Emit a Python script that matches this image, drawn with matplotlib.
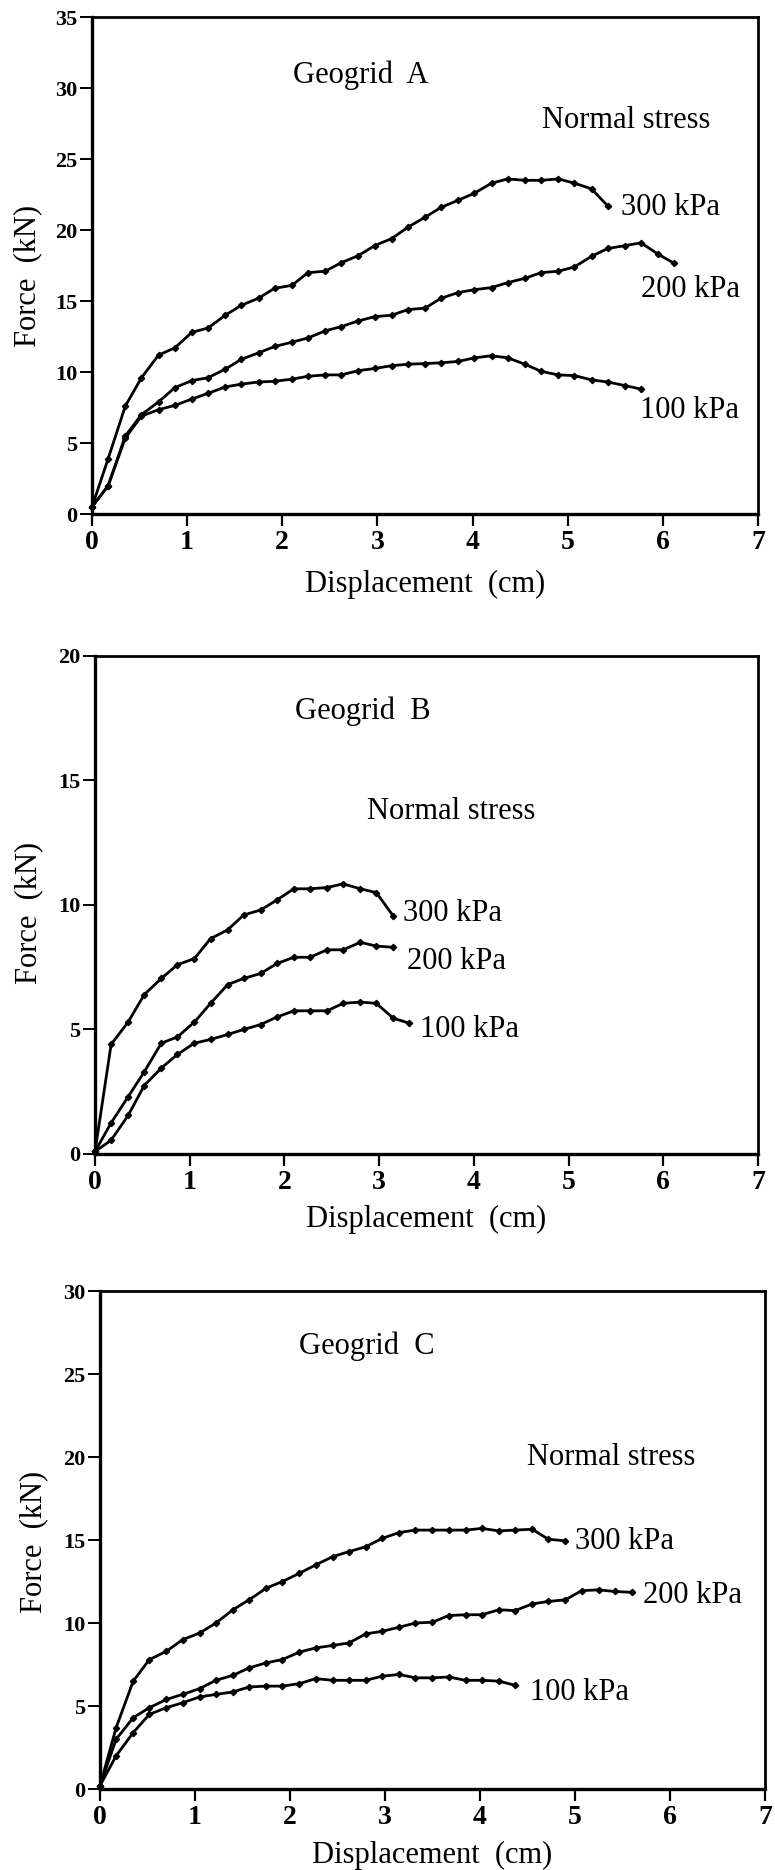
import matplotlib
matplotlib.use('Agg')
import matplotlib.pyplot as plt

plt.rcParams['font.family'] = ['Liberation Serif', 'DejaVu Serif']

# displacement readings (cm), shared by every curve of a panel
disp = [0.0, 0.17, 0.35, 0.52, 0.70, 0.87, 1.05, 1.22, 1.40, 1.57,
        1.75, 1.92, 2.10, 2.27, 2.45, 2.62, 2.80, 2.97, 3.15, 3.32,
        3.50, 3.67, 3.85, 4.02, 4.20, 4.37, 4.55, 4.72, 4.90, 5.07,
        5.25, 5.42, 5.60, 5.77, 5.95, 6.12]

# Geogrid A forces (kN)
a_300 = [0.5, 3.9, 7.6, 9.6, 11.2, 11.7, 12.8, 13.1, 14.0, 14.7,
         15.2, 15.9, 16.1, 17.0, 17.1, 17.7, 18.2, 18.9, 19.4, 20.2,
         20.9, 21.6, 22.1, 22.6, 23.3, 23.6, 23.5, 23.5, 23.6, 23.3,
         22.9, 21.7]
a_200 = [0.5, 2.0, 5.5, 7.0, 7.9, 8.9, 9.4, 9.6, 10.2, 10.9,
         11.35, 11.8, 12.1, 12.4, 12.9, 13.2, 13.6, 13.9, 14.0, 14.4,
         14.5, 15.2, 15.6, 15.8, 15.95, 16.3, 16.6, 17.0, 17.1, 17.4,
         18.15, 18.7, 18.9, 19.1, 18.3, 17.65]
a_100 = [0.5, 2.0, 5.35, 6.9, 7.35, 7.65, 8.1, 8.5, 8.95, 9.15,
         9.3, 9.35, 9.5, 9.7, 9.8, 9.8, 10.1, 10.25, 10.45, 10.55,
         10.6, 10.65, 10.75, 11.0, 11.15, 11.0, 10.55, 10.05, 9.8, 9.75,
         9.45, 9.3, 9.05, 8.8]

# Geogrid B forces (kN)
b_300 = [0.1, 4.4, 5.3, 6.4, 7.05, 7.6, 7.85, 8.65, 9.0, 9.6,
         9.8, 10.2, 10.65, 10.65, 10.7, 10.85, 10.65, 10.5, 9.55]
b_200 = [0.1, 1.25, 2.3, 3.3, 4.45, 4.7, 5.3, 6.05, 6.8, 7.05,
         7.25, 7.65, 7.9, 7.9, 8.2, 8.2, 8.5, 8.35, 8.3]
b_100 = [0.1, 0.55, 1.55, 2.75, 3.45, 4.0, 4.45, 4.6, 4.8, 5.0,
         5.2, 5.5, 5.75, 5.75, 5.75, 6.05, 6.1, 6.05, 5.45, 5.25]

# Geogrid C forces (kN)
c_300 = [0.2, 3.7, 6.5, 7.8, 8.3, 9.0, 9.4, 10.0, 10.8, 11.4,
         12.1, 12.5, 13.0, 13.5, 14.0, 14.3, 14.6, 15.1, 15.45, 15.6,
         15.6, 15.6, 15.6, 15.7, 15.55, 15.6, 15.65, 15.05, 14.95]
c_200 = [0.2, 3.0, 4.3, 4.9, 5.4, 5.7, 6.05, 6.55, 6.85, 7.3,
         7.6, 7.8, 8.25, 8.5, 8.65, 8.8, 9.35, 9.5, 9.75, 10.0,
         10.05, 10.45, 10.5, 10.5, 10.8, 10.75, 11.15, 11.3, 11.4, 11.95,
         12.0, 11.9, 11.85]
c_100 = [0.2, 2.0, 3.4, 4.5, 4.9, 5.2, 5.55, 5.7, 5.85, 6.15,
         6.2, 6.2, 6.35, 6.65, 6.55, 6.55, 6.55, 6.8, 6.9, 6.7,
         6.7, 6.75, 6.55, 6.55, 6.5, 6.25]

stress_labels = ['300 kPa', '200 kPa', '100 kPa']
titles = ['Geogrid  A', 'Geogrid  B', 'Geogrid  C']
y_max = [35, 20, 30]

panels = [
    dict(curves=[a_300, a_200, a_100],
         rect=[0.1187, 0.7251, 0.8594, 0.2658],
         title_xy=(2.11, 30.9), normal_xy=(4.73, 27.7),
         label_xy=[(5.56, 21.6), (5.77, 15.8), (5.76, 7.3)],
         xlab_y=-0.141, ylab_xy=(-0.096, 0.48)),
    dict(curves=[b_300, b_200, b_100],
         rect=[0.1226, 0.3829, 0.8555, 0.2663],
         title_xy=(2.11, 17.8), normal_xy=(2.87, 13.75),
         label_xy=[(3.25, 9.67), (3.29, 7.72), (3.43, 4.98)],
         xlab_y=-0.131, ylab_xy=(-0.10, 0.484)),
    dict(curves=[c_300, c_200, c_100],
         rect=[0.1290, 0.0433, 0.8580, 0.2663],
         title_xy=(2.10, 26.65), normal_xy=(4.50, 20.0),
         label_xy=[(5.0, 14.9), (5.72, 11.67), (4.53, 5.79)],
         xlab_y=-0.133, ylab_xy=(-0.10, 0.496)),
]

fig = plt.figure(figsize=(7.75, 18.7), dpi=100)

for k, p in enumerate(panels):
    ax = fig.add_axes(p['rect'])
    for force in p['curves']:
        ax.plot(disp[:len(force)], force, color='black', linewidth=2.0,
                marker='D', markersize=3.2, clip_on=False)

    ax.set_xlim(0, 7)
    ax.set_ylim(0, y_max[k])
    ax.set_xticks(range(0, 8))
    ax.set_yticks(range(0, y_max[k] + 1, 5))

    for side in ['left', 'bottom']:
        ax.spines[side].set_linewidth(2.4)
    for side in ['top', 'right']:
        ax.spines[side].set_linewidth(2.0)

    ax.tick_params(axis='x', direction='out', length=8.5, width=1.6, pad=3)
    ax.tick_params(axis='y', direction='out', length=9, width=1.4, pad=1.5)
    plt.setp(ax.get_xticklabels(), fontsize=20, fontweight='bold')
    plt.setp(ax.get_yticklabels(), fontsize=16, fontweight='bold')

    ax.text(p['title_xy'][0], p['title_xy'][1], titles[k], fontsize=22,
            ha='left', va='center')
    ax.text(p['normal_xy'][0], p['normal_xy'][1], 'Normal stress',
            fontsize=22, ha='left', va='center')
    for (tx, ty), lab in zip(p['label_xy'], stress_labels):
        ax.text(tx, ty, lab, fontsize=22, ha='left', va='center')

    ax.text(0.5, p['xlab_y'], 'Displacement  (cm)', transform=ax.transAxes,
            fontsize=22, ha='center', va='center')
    ax.text(p['ylab_xy'][0], p['ylab_xy'][1], 'Force  (kN)',
            transform=ax.transAxes, fontsize=22, ha='center', va='center',
            rotation=90)

fig.savefig('out.png', dpi=100, facecolor='white')
